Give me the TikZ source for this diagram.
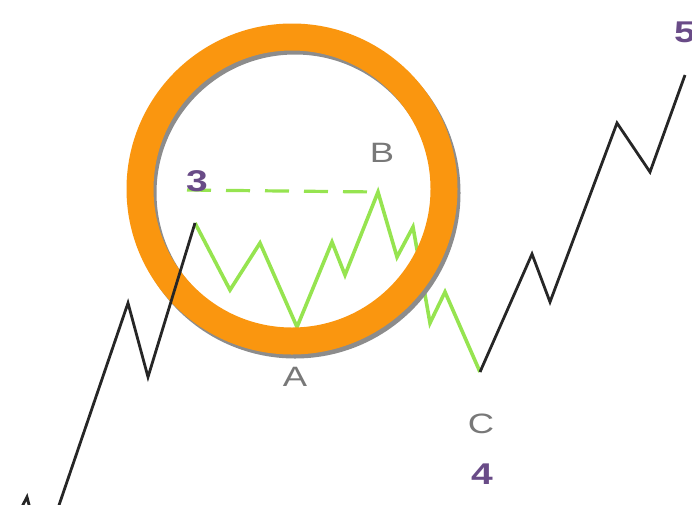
\documentclass[tikz,border=0pt]{standalone}
\usepackage{fontspec}
\setmainfont{Liberation Sans}
\usetikzlibrary{calc}
\definecolor{ringorange}{RGB}{250,150,15}
\definecolor{wavegreen}{RGB}{150,228,80}
\definecolor{labelpurple}{RGB}{105,75,135}
\definecolor{labelgray}{RGB}{120,120,120}
\newcommand{\widelabel}[1]{\scalebox{1.3}[1]{#1}}
\tikzset{
  blackwave/.style={draw=black!85, line width=2.8pt, line join=miter},
  greenwave/.style={draw=wavegreen, line width=3.6pt, line join=miter},
  dashline/.style={draw=wavegreen, line width=3.2pt, dash pattern=on 24pt off 15pt},
  ringshadow/.style={draw=black!45, line width=27pt},
  ringmain/.style={draw=ringorange, line width=27pt},
  graylabel/.style={text=labelgray, font=\fontsize{28}{28}\selectfont, inner sep=0pt},
  purplelabel/.style={text=labelpurple, font=\fontsize{30}{30}\selectfont\bfseries, inner sep=0pt}
}
\begin{document}
\begin{tikzpicture}[x=1pt,y=-1pt]
\useasboundingbox (0,0) rectangle (692,504);
% wave points
\coordinate (p0) at (10,530);
\coordinate (p1) at (27,497);
\coordinate (p2) at (42,555);
\coordinate (p3) at (128,303);
\coordinate (p4) at (148,377);
\coordinate (w3) at (195,223);
\coordinate (g1) at (230,290);
\coordinate (g2) at (260,243);
\coordinate (wA) at (297,327);
\coordinate (g3) at (332,242);
\coordinate (g4) at (345,275);
\coordinate (wB) at (378,192);
\coordinate (g5) at (397,257);
\coordinate (g6) at (413,227);
\coordinate (g7) at (430,323);
\coordinate (g8) at (445,292);
\coordinate (wC) at (480,372);
\coordinate (q1) at (532,254);
\coordinate (q2) at (550,302);
\coordinate (q3) at (617,123);
\coordinate (q4) at (650,172);
\coordinate (q5) at (685,75);
\coordinate (d0) at (187,190);
\coordinate (ringc) at (292,189);
\coordinate (ringsh) at (295,193);
% green correction wave
\draw[greenwave] (w3) -- (g1) -- (g2) -- (wA) -- (g3) -- (g4) -- (wB) -- (g5) -- (g6) -- (g7) -- (g8) -- (wC);
\draw[dashline] (d0) -- (wB);
% ring
\draw[ringshadow] (ringsh) circle[radius=152];
\draw[ringmain] (ringc) circle[radius=152];
% black impulse waves
\draw[blackwave] (p0) -- (p1) -- (p2) -- (p3) -- (p4) -- (w3);
\draw[blackwave] (wC) -- (q1) -- (q2) -- (q3) -- (q4) -- (q5);
% labels
\node[purplelabel] (l3) at (197,181) {\widelabel{3}};
\node[graylabel] (lB) at (382,153) {\widelabel{B}};
\node[graylabel] (lA) at (295,377) {\widelabel{A}};
\node[graylabel] (lC) at (481,424) {\widelabel{C}};
\node[purplelabel] (l4) at (482,474) {\widelabel{4}};
\node[purplelabel] (l5) at (685,32) {\widelabel{5}};
\end{tikzpicture}
\end{document}
